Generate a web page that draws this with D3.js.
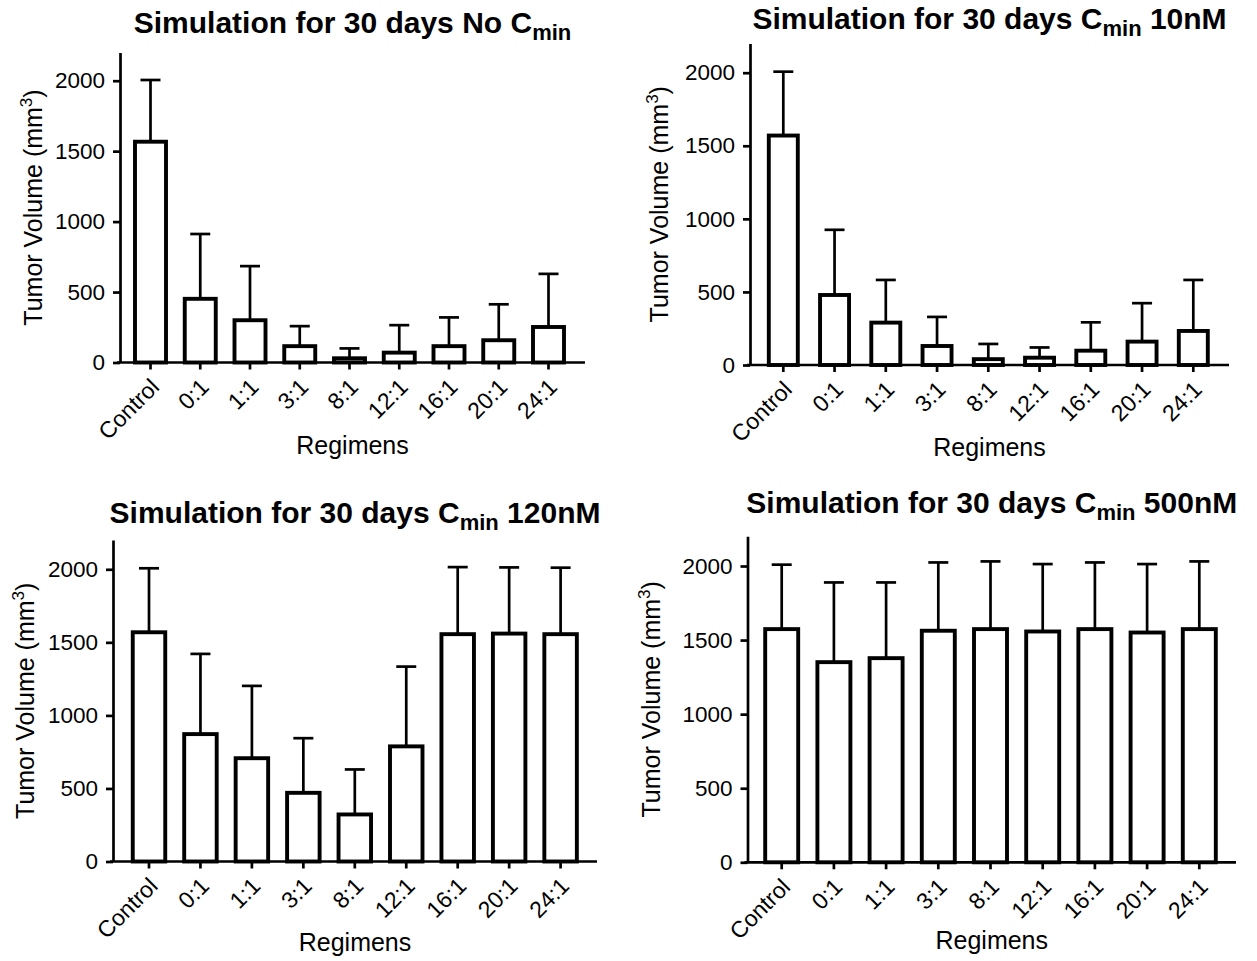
<!DOCTYPE html>
<html><head><meta charset="utf-8">
<script src="https://cdn.jsdelivr.net/npm/d3@7"></script>
<style>
body{margin:0;background:#fff;}
text{font-family:"Liberation Sans",Arial,Helvetica,sans-serif;fill:#000;}
</style>
</head><body>
<svg id="chart" width="1257" height="961"></svg>
<script>
// ---- data ----
const regimens = ["Control","0:1","1:1","3:1","8:1","12:1","16:1","20:1","24:1"];
const yTickValues = [0,500,1000,1500,2000];
const yMax = 2200;

const meanNoCmin = [1567,452,300,116,30,70,116,158,252];
const errNoCmin  = [438,460,384,142,70,195,204,255,377];

const mean10nM = [1570,479,290,130,40,50,98,160,233];
const err10nM  = [437,446,292,199,104,70,194,263,349];

const mean120nM = [1569,872,707,470,322,788,1556,1560,1556];
const err120nM  = [438,549,495,374,308,546,459,453,455];

const mean500nM = [1574,1351,1378,1563,1574,1558,1574,1551,1574];
const err500nM  = [435,538,511,461,457,455,450,462,457];

const titlePre = ["Simulation for 30 days No C","Simulation for 30 days C","Simulation for 30 days C","Simulation for 30 days C"];
const titleSub = ["min","min","min","min"];
const titlePost = [""," 10nM"," 120nM"," 500nM"];

const xTitle = "Regimens";
const yTitleMain = "Tumor Volume (mm";
const yTitleSup = "3";
const yTitleEnd = ")";

// ---- layout (positions only) ----
const panels = [
  {mean: meanNoCmin, err: errNoCmin, ax:120, y0:362.5, y2000:80.7, c0:150.5, step:49.75, bw:31, xEnd:585, titleY:33, xTitleY:454, yTitleX:42},
  {mean: mean10nM,  err: err10nM,  ax:750, y0:365,   y2000:72.7, c0:783.3, step:51.25, bw:29, xEnd:1229, titleY:29, xTitleY:456, yTitleX:668},
  {mean: mean120nM, err: err120nM, ax:113, y0:861.5, y2000:569.3, c0:149, step:51.45, bw:32.5, xEnd:597, titleY:523, xTitleY:951, yTitleX:34},
  {mean: mean500nM, err: err500nM, ax:747.5, y0:862.3, y2000:566, c0:781.7, step:52.2, bw:33, xEnd:1236, titleY:513, xTitleY:949, yTitleX:660}
];

const svg = d3.select("#chart");
const BAR_SW = 3.9, AX_SW = 2.7, ERR_SW = 2.7, CAP = 20;

panels.forEach((p, pi) => {
  const g = svg.append("g");
  const yTopPx = p.y0 - (p.y0 - p.y2000) * yMax / 2000;
  const y = d3.scaleLinear().domain([0, yMax]).range([p.y0, yTopPx]);
  const pad = 1 - p.bw / p.step;
  const x = d3.scaleBand().domain(regimens)
    .range([p.c0 - p.step/2, p.c0 + (regimens.length - 0.5) * p.step])
    .paddingInner(pad).paddingOuter(pad/2);

  const rows = regimens.map((r, i) => ({r, m: p.mean[i], e: p.err[i]}));

  // error bars (upper only)
  const eg = g.append("g").attr("stroke", "#000").attr("stroke-width", ERR_SW).attr("fill", "none");
  rows.forEach(d => {
    const cx = x(d.r) + x.bandwidth()/2;
    eg.append("line").attr("x1", cx).attr("x2", cx).attr("y1", y(d.m)).attr("y2", y(d.m + d.e));
    eg.append("line").attr("x1", cx - CAP/2).attr("x2", cx + CAP/2).attr("y1", y(d.m + d.e)).attr("y2", y(d.m + d.e));
  });

  // bars
  g.append("g").selectAll("rect").data(rows).join("rect")
    .attr("x", d => x(d.r))
    .attr("width", x.bandwidth())
    .attr("y", d => y(d.m))
    .attr("height", d => Math.max(0, y(0) - y(d.m)))
    .attr("fill", "#fff")
    .attr("stroke", "#000")
    .attr("stroke-width", BAR_SW);

  // y axis
  const yAxis = g.append("g").attr("transform", `translate(${p.ax},0)`)
    .call(d3.axisLeft(y).tickValues(yTickValues).tickFormat(d3.format("d")).tickSize(7).tickSizeOuter(0).tickPadding(8));
  yAxis.select(".domain").attr("stroke-width", AX_SW);
  yAxis.selectAll(".tick line").attr("stroke-width", AX_SW);
  yAxis.selectAll(".tick text").attr("font-size", 22.5).attr("font-family", "Liberation Sans, Arial, sans-serif").attr("fill", "#000");

  // x axis
  const xAxis = g.append("g").attr("transform", `translate(0,${p.y0})`)
    .call(d3.axisBottom(x).tickSize(7).tickSizeOuter(0));
  xAxis.select(".domain").remove();
  xAxis.append("line").attr("x1", p.ax - 3).attr("x2", p.xEnd).attr("y1", 0).attr("y2", 0)
    .attr("stroke", "#000").attr("stroke-width", AX_SW);
  xAxis.selectAll(".tick line").attr("stroke-width", AX_SW);
  xAxis.selectAll(".tick text")
    .attr("font-size", 23).attr("font-family", "Liberation Sans, Arial, sans-serif").attr("fill", "#111")
    .attr("x", 0).attr("y", 0).attr("dy", 0)
    .attr("text-anchor", "end")
    .attr("transform", "translate(10,26) rotate(-45)");

  const cxAxis = (p.ax + p.xEnd) / 2;
  // x title
  g.append("text").attr("x", cxAxis).attr("y", p.xTitleY).attr("text-anchor", "middle")
    .attr("font-size", 25).text(xTitle);

  // y title
  const yt = g.append("text")
    .attr("transform", `translate(${p.yTitleX},${(p.y0 + yTopPx)/2}) rotate(-90)`)
    .attr("text-anchor", "middle").attr("font-size", 25);
  yt.append("tspan").text(yTitleMain);
  yt.append("tspan").attr("font-size", 17).attr("dy", -10).text(yTitleSup);
  yt.append("tspan").attr("dy", 10).text(yTitleEnd);

  // title
  const tt = g.append("text").attr("x", cxAxis).attr("y", p.titleY).attr("text-anchor", "middle")
    .attr("font-size", 30).attr("font-weight", "bold");
  tt.append("tspan").text(titlePre[pi]);
  tt.append("tspan").attr("font-size", 22).attr("dy", 7).text(titleSub[pi]);
  if (titlePost[pi]) tt.append("tspan").attr("dy", -7).text(titlePost[pi]);
});
</script>
</body></html>
